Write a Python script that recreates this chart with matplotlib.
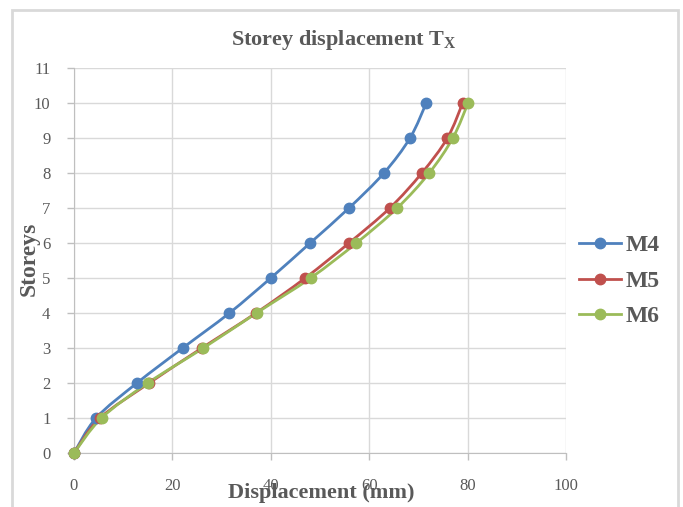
import matplotlib
matplotlib.use("Agg")
import matplotlib.pyplot as plt
from matplotlib.path import Path
from matplotlib.patches import PathPatch, Rectangle
from matplotlib.lines import Line2D
import numpy as np

# Storey levels and lateral displacement (mm) per model
storeys = [0, 1, 2, 3, 4, 5, 6, 7, 8, 9, 10]
m4 = [0, 4.5, 12.8, 22.1, 31.6, 40.0, 48.0, 55.9, 63.0, 68.3, 71.6]
m5 = [0, 5.3, 15.3, 26.0, 37.0, 47.0, 55.9, 64.2, 70.7, 75.9, 79.0]
m6 = [0, 5.6, 15.0, 26.3, 37.1, 48.1, 57.4, 65.7, 72.2, 77.0, 80.1]
series_names = ["M4", "M5", "M6"]
series_colors = ["#4F81BD", "#C0504D", "#9BBB59"]

x_ticks = [0, 20, 40, 60, 80, 100]
y_ticks = list(range(0, 12))

TEXT = "#595959"
GRID = "#D9D9D9"
SERIF = "Liberation Serif"

plt.rcParams["mathtext.fontset"] = "custom"
plt.rcParams["mathtext.rm"] = "Liberation Serif:bold"

W, H = 683, 507
fig = plt.figure(figsize=(W / 100, H / 100), dpi=100)

# chart frame
fig.patches.append(Rectangle((12 / W, -0.05), (678 - 12) / W, 1.05 - 10 / H,
                             transform=fig.transFigure, fill=False,
                             edgecolor="#D9D9D9", linewidth=2.0))

ax = fig.add_axes([74 / W, 1 - 453 / H, (566 - 74) / W, (453 - 68) / H])
ax.set_xlim(0, 100)
ax.set_ylim(0, 11)
ax.set_xticks(x_ticks)
ax.set_yticks(y_ticks)
ax.grid(True, color=GRID, linewidth=1.0)
ax.set_axisbelow(True)
for s in ["top", "right"]:
    ax.spines[s].set_visible(False)
ax.spines["left"].set_color("#BFBFBF")
ax.spines["bottom"].set_color("#BFBFBF")
ax.tick_params(axis="both", colors="#BFBFBF", length=5, width=1.0,
               labelcolor=TEXT, labelsize=12)
ax.tick_params(axis="y", pad=12)
ax.tick_params(axis="x", pad=13)
for lab in ax.get_xticklabels() + ax.get_yticklabels():
    lab.set_fontfamily(SERIF)


def smooth_path(xs, ys):
    pts = np.column_stack([xs, ys]).astype(float)
    n = len(pts)
    verts = [pts[0]]
    codes = [Path.MOVETO]
    for i in range(n - 1):
        p0 = pts[max(i - 1, 0)]
        p1 = pts[i]
        p2 = pts[i + 1]
        p3 = pts[min(i + 2, n - 1)]
        c1 = p1 + (p2 - p0) / 6.0
        c2 = p2 - (p3 - p1) / 6.0
        verts += [c1, c2, p2]
        codes += [Path.CURVE4] * 3
    return Path(verts, codes)


for vals, name, col in zip([m4, m5, m6], series_names, series_colors):
    ax.add_patch(PathPatch(smooth_path(vals, storeys), fill=False,
                           edgecolor=col, linewidth=2.0, capstyle="round",
                           joinstyle="round", zorder=3))
    ax.plot(vals, storeys, linestyle="none", marker="o", markersize=7.5,
            color=col, zorder=4, clip_on=False)

fig.text(344 / W, 1 - 40 / H, r"Storey displacement $\mathrm{T}_\mathrm{X}$",
         ha="center", va="center", fontsize=16, fontweight="bold",
         family=SERIF, color=TEXT)
fig.text(321 / W, 1 - 493 / H, "Displacement (mm)", ha="center", va="center",
         fontsize=16, fontweight="bold", family=SERIF, color=TEXT)
fig.text(29 / W, 1 - 259 / H, "Storeys", ha="center", va="center",
         rotation=90, fontsize=17, fontweight="bold", family=SERIF, color=TEXT)

handles = [Line2D([], [], color=c, linewidth=2.0, marker="o", markersize=7.5)
           for c in series_colors]
leg = fig.legend(handles, series_names, loc="center left",
                 bbox_to_anchor=(558 / W, 1 - 281 / H), frameon=False,
                 prop={"family": SERIF, "weight": "bold", "size": 17},
                 handlelength=1.75, handletextpad=0.2, labelspacing=0.6)
for t in leg.get_texts():
    t.set_color(TEXT)

fig.savefig("out.png", dpi=100)
